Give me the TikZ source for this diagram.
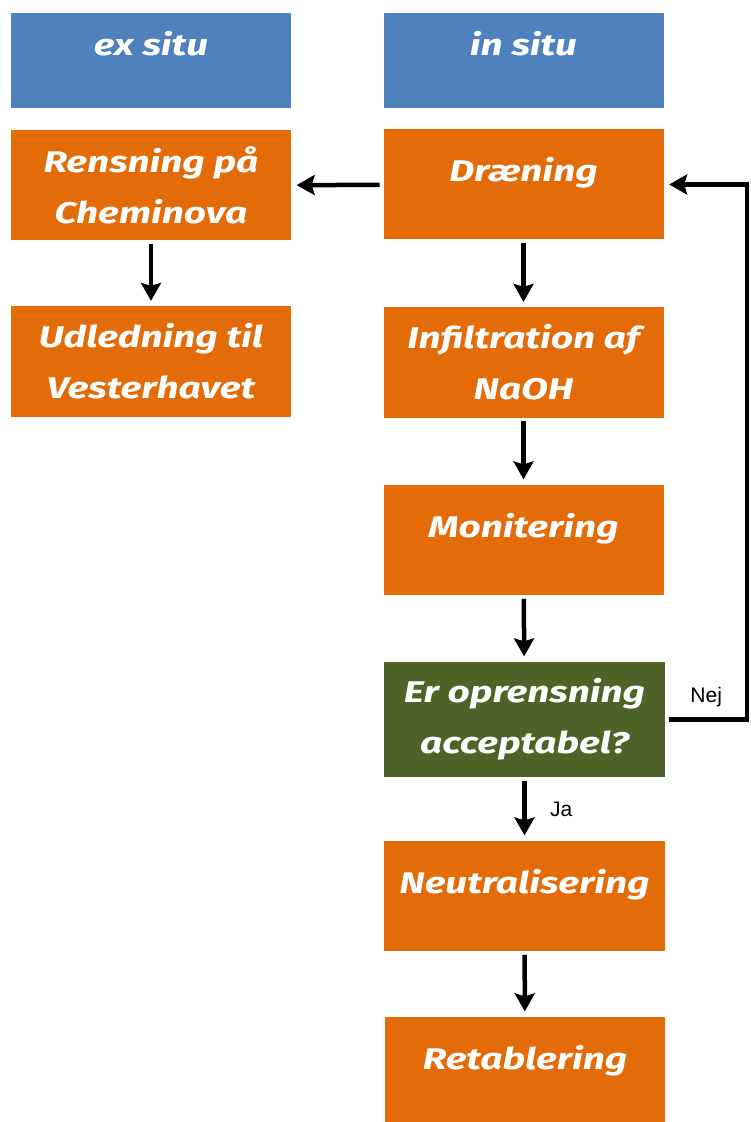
\documentclass[tikz,border=0pt]{standalone}
\usepackage{fontspec}
\setmainfont{Fira Sans}[FakeStretch=1.3]
\setsansfont{Liberation Sans}
\usetikzlibrary{arrows.meta}
\definecolor{hoved}{HTML}{4F81BD}
\definecolor{trin}{HTML}{E36C09}
\definecolor{beslut}{HTML}{4F6228}
\tikzset{
  boxfont/.style={font=\fontsize{17pt}{29pt}\selectfont\bfseries\itshape, text=white},
  stepbox/.style={boxfont, rectangle, fill=trin, minimum width=5.6cm, minimum height=2.2cm, align=center},
  onebox/.style={stepbox, inner ysep=0pt, text height=1.05cm, text depth=1.15cm},
  headbox/.style={boxfont, rectangle, fill=hoved, minimum width=5.6cm, inner ysep=0pt, text height=0.85cm, text depth=1.05cm},
  pil/.style={line width=0.09cm, -{Stealth[length=0.36cm, width=0.4cm, inset=0.06cm]}, shorten <=2pt, shorten >=3pt},
  svar/.style={font=\sffamily\fontsize{12pt}{14pt}\selectfont}
}
\begin{document}
\begin{tikzpicture}
\useasboundingbox (0,0) rectangle (15,-22.44);
\draw(3.02,-1.21) node[headbox](exsitu){ex situ};
\draw(10.47,-1.21) node[headbox](insitu){in situ};
%
\draw(3.02,-3.71) node[stepbox](rensning){Rensning på\\Cheminova};
\draw(10.47,-3.69) node[onebox](draening){Dræning};
\draw[pil] (draening) -- (rensning);
%
\draw(3.02,-7.23) node[stepbox](udledning){Udledning til\\Vesterhavet};
\draw[pil] (rensning) -- (udledning);
%
\draw(10.47,-7.25) node[stepbox](infiltration){Infiltration af\\NaOH};
\draw[pil] (draening) -- (infiltration);
%
\draw(10.47,-10.8) node[onebox](monitering){Monitering};
\draw[pil] (infiltration) -- (monitering);
%
\draw(10.49,-14.39) node[stepbox, fill=beslut, minimum width=5.62cm, minimum height=2.3cm](acceptabel){Er oprensning\\acceptabel?};
\draw[pil] (monitering) -- (acceptabel);
%
\draw(10.49,-17.92) node[onebox, minimum width=5.62cm](neutralisering){Neutralisering};
\draw[pil] (acceptabel) -- node[svar, right=0.35cm]{Ja} (neutralisering);
%
\draw(10.5,-21.44) node[onebox](retablering){Retablering};
\draw[pil] (neutralisering) -- (retablering);
%
\coordinate (nejhjoerne) at (14.94,-14.39);
\draw[pil] (acceptabel) -- node[svar, above=0.1cm]{Nej} (nejhjoerne) |- (draening);
\end{tikzpicture}
\end{document}
